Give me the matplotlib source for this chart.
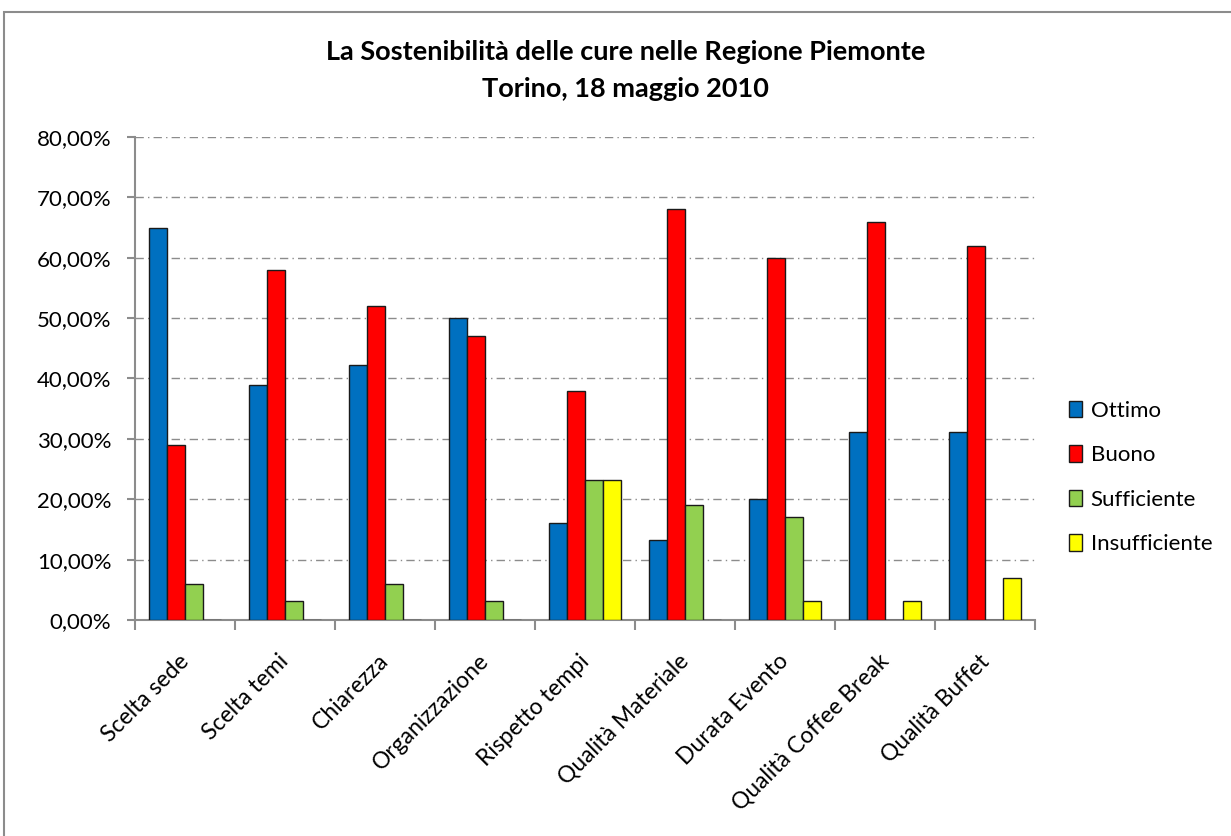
import matplotlib
matplotlib.use('Agg')
import matplotlib.pyplot as plt
import matplotlib.transforms as mtransforms
import numpy as np
from matplotlib.patches import Rectangle
from matplotlib.ticker import FuncFormatter

categories = ["Scelta sede", "Scelta temi", "Chiarezza", "Organizzazione",
              "Rispetto tempi", "Qualità Materiale", "Durata Evento",
              "Qualità Coffee Break", "Qualità Buffet"]
ottimo = [65, 39, 42.2, 50, 16, 13.2, 20, 31.1, 31.1]
buono = [29, 58, 52, 47, 38, 68, 60, 66, 62]
sufficiente = [6, 3.2, 6, 3.2, 23.2, 19, 17, 0, 0]
insufficiente = [0, 0, 0, 0, 23.2, 0, 3.2, 3.2, 7]
series_names = ["Ottimo", "Buono", "Sufficiente", "Insufficiente"]
colors = ["#0070C0", "#FF0000", "#92D050", "#FFFF00"]

plt.rcParams['font.family'] = ['Lato', 'DejaVu Sans']

fig = plt.figure(figsize=(12.31, 8.36), dpi=100)
ax = fig.add_axes([0.1097, 0.2584, 0.7311, 0.5777])

# chart area border
fig.patches.append(Rectangle((4 / 1231, -0.01), 1.1, 1 - 12 / 836 + 0.01,
                             transform=fig.transFigure, fill=False,
                             edgecolor="#8c8c8c", linewidth=1.5))

x = np.arange(len(categories))
w = 0.18
all_series = [ottimo, buono, sufficiente, insufficiente]
for i, (vals, name, c) in enumerate(zip(all_series, series_names, colors)):
    ax.bar(x + (i - 1.5) * w, vals, width=w, color=c, edgecolor="#1a1a1a",
           linewidth=1, label=name, zorder=3)

ax.set_xlim(-0.5, len(categories) - 0.5)
ax.set_ylim(0, 80)
ax.set_yticks(np.arange(0, 81, 10))
ax.yaxis.set_major_formatter(FuncFormatter(lambda v, p: f"{v:.2f}%".replace(".", ",")))
ax.yaxis.grid(True, linestyle=(0, (6, 3, 1, 3)), color="#8c8c8c", linewidth=1, zorder=0)

ax.set_xticks(x)
ax.set_xticks(np.arange(-0.5, len(categories), 1), minor=True)
ax.tick_params(axis="x", which="major", length=0, pad=22)
ax.tick_params(axis="x", which="minor", length=7, color="#8c8c8c", width=1.5)
ax.tick_params(axis="y", length=6, color="#8c8c8c", width=1.5, labelsize=16, pad=11)
ax.set_xticklabels(categories, rotation=45, ha="right", rotation_mode="anchor", fontsize=16.5)

# nudge the rotated labels a little to the left
shift = mtransforms.ScaledTranslation(-7 / 100, 0, fig.dpi_scale_trans)
for lab in ax.get_xticklabels():
    lab.set_transform(lab.get_transform() + shift)

for s in ["top", "right"]:
    ax.spines[s].set_visible(False)
for s in ["left", "bottom"]:
    ax.spines[s].set_color("#8c8c8c")
    ax.spines[s].set_linewidth(1.5)

fig.text(0.508, 0.916, "La Sostenibilità delle cure nelle Regione Piemonte\nTorino, 18 maggio 2010",
         ha="center", va="center", fontsize=19.5, fontweight="bold", linespacing=1.65)

ax.legend(loc="center left", bbox_to_anchor=(1.015, 0.295), frameon=False, fontsize=16,
          handlelength=0.6, handleheight=0.75, labelspacing=1.1, handletextpad=0.4)

fig.savefig("out.png", dpi=100)
